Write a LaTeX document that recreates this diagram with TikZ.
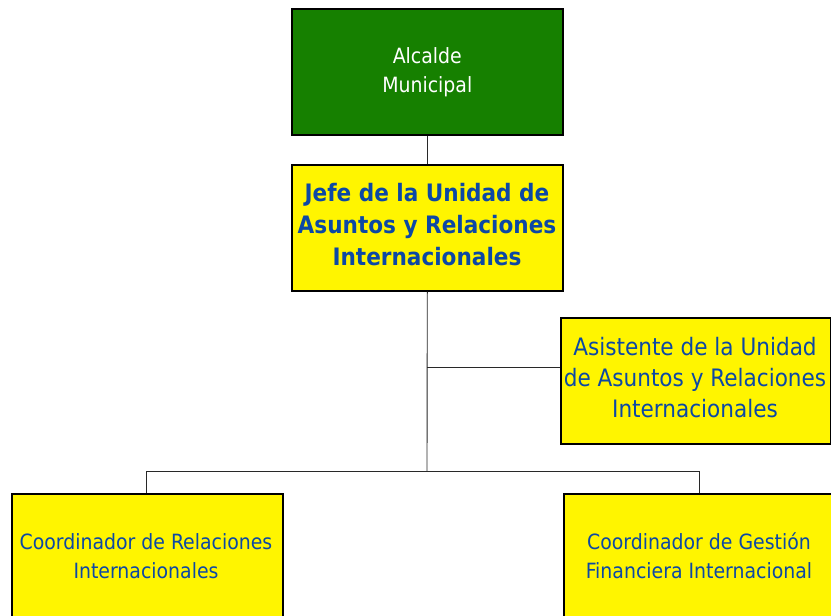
\documentclass[tikz,border=0pt]{standalone}
\usepackage{fontspec}
\setmainfont{DejaVu Sans Condensed}
\definecolor{boxgreen}{RGB}{22,128,0}
\definecolor{boxyellow}{RGB}{255,245,0}
\definecolor{txtblue}{RGB}{12,72,165}
\definecolor{linegray}{RGB}{40,40,40}
\begin{document}
\begin{tikzpicture}[x=1pt,y=-1pt,
  orgbox/.style={draw=black,line width=1.6pt,fill=boxyellow,text=txtblue,align=center,
    minimum width=271pt,minimum height=126pt,inner sep=0pt,anchor=north west},
  conn/.style={draw=linegray,line width=0.9pt}]
\useasboundingbox (0,0) rectangle (831,616);
\clip (0,0) rectangle (831,616);
\node[orgbox,fill=boxgreen,text=white,font=\fontsize{21}{29}\selectfont] (alc) at (291,8) {Alcalde\\ Municipal};
\node[orgbox] (jefe) at (291,164) {};
\node[font=\fontsize{24}{32}\selectfont\bfseries,text=txtblue,align=center] (jefet) at (427,225) {Jefe de la Unidad de\\Asuntos y Relaciones\\Internacionales};
\node[orgbox,minimum width=270pt] (asis) at (560,317) {};
\node[font=\fontsize{24}{31}\selectfont,text=txtblue,align=center] (asist) at (695,378) {Asistente de la Unidad\\de Asuntos y Relaciones\\Internacionales};
\node[orgbox] (cri) at (11,493) {};
\node[font=\fontsize{21}{29}\selectfont,text=txtblue,align=center] (crit) at (146,556) {Coordinador de Relaciones\\Internacionales};
\node[orgbox,minimum width=280pt] (cgf) at (563,493) {};
\node[font=\fontsize{21}{29}\selectfont,text=txtblue,align=center] (cgft) at (699,556) {Coordinador de Gestión\\Financiera Internacional};
\coordinate (j1) at (427,367);
\coordinate (j2) at (427,471);
\coordinate (l1) at (146,471);
\coordinate (r1) at (699,471);
\draw[conn] (alc.south) -- (jefe.north);
\draw[conn] (jefe.south) -- (j2);
\draw[conn] (j1) -- (j1 -| asis.west);
\draw[conn] (l1) -- (r1);
\draw[conn] (l1) -- (l1 |- cri.north);
\draw[conn] (r1) -- (r1 |- cgf.north);
\end{tikzpicture}
\end{document}
